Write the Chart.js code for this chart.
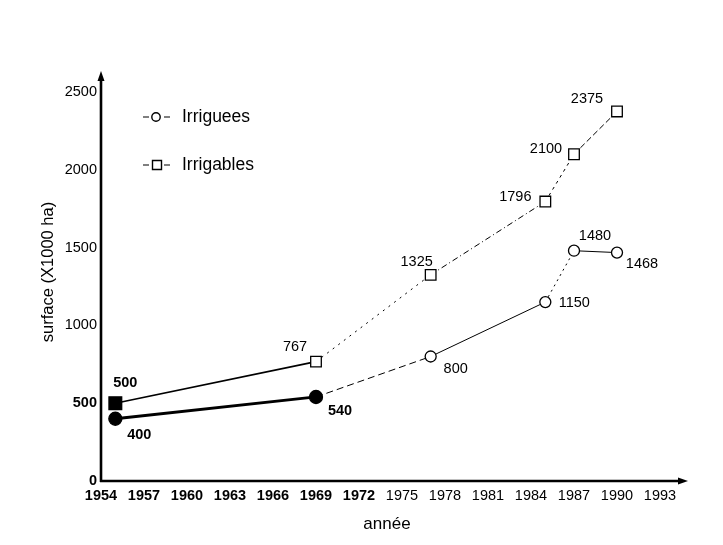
<!DOCTYPE html>
<html>
<head>
<meta charset="utf-8">
<script src="https://cdn.jsdelivr.net/npm/chart.js@4.4.0/dist/chart.umd.min.js"></script>
<style>
    html, body { margin: 0; padding: 0; background: #fff; }
    #wrap { width: 723px; height: 545px; }
</style>
</head>
<body>
<div id="wrap"><canvas id="chart" width="723" height="545"></canvas></div>
<script>
// données
const years = [1955, 1969, 1977, 1985, 1987, 1990];
const irriguees = [400, 540, 800, 1150, 1480, 1468];
const irrigables = [500, 767, 1325, 1796, 2100, 2375];
const xTicks = [1954, 1957, 1960, 1963, 1966, 1969, 1972, 1975, 1978, 1981, 1984, 1987, 1990, 1993];
const yTicks = [0, 500, 1000, 1500, 2000, 2500];
const seriesNames = ['Irriguees', 'Irrigables'];
const xTitle = 'année';
const yTitle = 'surface (X1000 ha)';

const FONT = '"Liberation Sans", Arial, Helvetica, sans-serif';

// décalage des étiquettes par rapport aux points
const labelOffsets = [
    [[24, 16], [24, 14], [25, 12], [29, 1], [21, -15], [25, 11]],
    [[10, -20], [-21, -15], [-14, -13], [-30, -5], [-28, -5], [-30, -12]]
];
const boldLabels = [[true, true, false, false, false, false], [true, false, false, false, false, false]];

// styles des segments
const circleSeg = [
    { w: 2.8, dash: [] }, { w: 1, dash: [7, 4] }, { w: 1, dash: [] }, { w: 1, dash: [2, 4] }, { w: 1, dash: [] }
];
const squareSeg = [
    { w: 1.6, dash: [] }, { w: 1, dash: [2, 5] }, { w: 1, dash: [6, 3, 1, 3] }, { w: 1, dash: [3, 4] }, { w: 1, dash: [6, 3] }
];

const toPoints = (vals) => vals.map((v, i) => ({ x: years[i], y: v }));

const chartDecor = {
    id: 'chartDecor',
    afterDatasetsDraw(chart) {
        const ctx = chart.ctx;
        const area = chart.chartArea;
        ctx.save();
        ctx.fillStyle = '#000';
        ctx.strokeStyle = '#000';

        // axes avec flèches
        ctx.lineWidth = 2.6;
        ctx.beginPath();
        ctx.moveTo(area.left, area.bottom + 1);
        ctx.lineTo(area.left, 78);
        ctx.moveTo(area.left - 1, area.bottom);
        ctx.lineTo(680, area.bottom);
        ctx.stroke();
        ctx.beginPath();
        ctx.moveTo(area.left, 71);
        ctx.lineTo(area.left - 3.5, 81);
        ctx.lineTo(area.left + 3.5, 81);
        ctx.closePath();
        ctx.fill();
        ctx.beginPath();
        ctx.moveTo(688, area.bottom);
        ctx.lineTo(678, area.bottom - 3.5);
        ctx.lineTo(678, area.bottom + 3.5);
        ctx.closePath();
        ctx.fill();

        // étiquettes des valeurs
        ctx.textAlign = 'center';
        ctx.textBaseline = 'middle';
        chart.data.datasets.forEach((ds, di) => {
            const meta = chart.getDatasetMeta(di);
            meta.data.forEach((pt, j) => {
                const off = labelOffsets[di][j];
                ctx.font = (boldLabels[di][j] ? 'bold ' : '') + '14.5px ' + FONT;
                ctx.fillText(String(ds.data[j].y), pt.x + off[0], pt.y + off[1]);
            });
        });

        // légende
        ctx.font = '17.5px ' + FONT;
        ctx.textAlign = 'left';
        const legendY = [117, 165];
        chart.data.datasets.forEach((ds, di) => {
            const y = legendY[di];
            ctx.lineWidth = 1.2;
            ctx.beginPath();
            ctx.moveTo(143, y); ctx.lineTo(149, y);
            ctx.moveTo(164, y); ctx.lineTo(170, y);
            ctx.stroke();
            ctx.lineWidth = 1.4;
            ctx.beginPath();
            if (di === 0) {
                ctx.arc(156, y, 4.2, 0, Math.PI * 2);
            } else {
                ctx.rect(152.5, y - 4.5, 9, 9);
            }
            ctx.stroke();
            ctx.fillText(ds.label, 182, y);
        });

        // titres des axes
        ctx.textAlign = 'center';
        ctx.font = '17px ' + FONT;
        ctx.fillText(xTitle, 387, 524);
        ctx.translate(48, 272);
        ctx.rotate(-Math.PI / 2);
        ctx.font = '16.5px ' + FONT;
        ctx.fillText(yTitle, 0, 0);
        ctx.restore();
    }
};

new Chart(document.getElementById('chart'), {
    type: 'line',
    data: {
        datasets: [
            {
                label: seriesNames[0],
                data: toPoints(irriguees),
                borderColor: '#000',
                borderWidth: 1,
                pointStyle: 'circle',
                pointRadius: [6.5, 6.5, 5.5, 5.5, 5.5, 5.5],
                pointBackgroundColor: ['#000', '#000', '#fff', '#fff', '#fff', '#fff'],
                pointBorderColor: '#000',
                pointBorderWidth: 1.3,
                tension: 0,
                segment: {
                    borderWidth: c => circleSeg[c.p0DataIndex].w,
                    borderDash: c => circleSeg[c.p0DataIndex].dash
                }
            },
            {
                label: seriesNames[1],
                data: toPoints(irrigables),
                borderColor: '#000',
                borderWidth: 1,
                pointStyle: 'rect',
                pointRadius: [9, 7.5, 7.5, 7.5, 7.5, 7.5],
                pointBackgroundColor: ['#000', '#fff', '#fff', '#fff', '#fff', '#fff'],
                pointBorderColor: '#000',
                pointBorderWidth: 1.3,
                tension: 0,
                segment: {
                    borderWidth: c => squareSeg[c.p0DataIndex].w,
                    borderDash: c => squareSeg[c.p0DataIndex].dash
                }
            }
        ]
    },
    options: {
        responsive: false,
        animation: false,
        layout: { padding: { left: 0, top: 92, right: 63, bottom: 0 } },
        plugins: {
            legend: { display: false },
            tooltip: { enabled: false }
        },
        scales: {
            x: {
                type: 'linear',
                min: 1954,
                max: 1993,
                afterBuildTicks: s => { s.ticks = xTicks.map(v => ({ value: v })); },
                afterFit: s => { s.height = 64; },
                grid: { display: false, drawTicks: false },
                border: { display: false },
                ticks: {
                    color: '#000',
                    padding: 6,
                    maxRotation: 0,
                    autoSkip: false,
                    font: c => ({ family: FONT, size: 14.5, weight: (c.tick && c.tick.value <= 1972) ? 'bold' : 'normal' }),
                    callback: v => String(v)
                }
            },
            y: {
                min: 0,
                max: 2500,
                afterBuildTicks: s => { s.ticks = yTicks.map(v => ({ value: v })); },
                afterFit: s => { s.width = 101; },
                grid: { display: false, drawTicks: false },
                border: { display: false },
                ticks: {
                    color: '#000',
                    padding: 4,
                    font: c => ({ family: FONT, size: 14.5, weight: (c.tick && c.tick.value <= 500) ? 'bold' : 'normal' }),
                    callback: v => String(v)
                }
            }
        }
    },
    plugins: [chartDecor]
});
</script>
</body>
</html>
